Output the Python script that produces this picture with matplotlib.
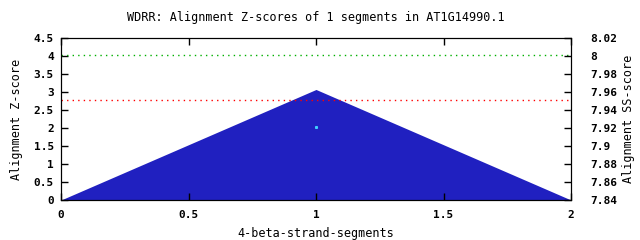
import numpy as np
import matplotlib
matplotlib.use('Agg')
import matplotlib.pyplot as plt

#---------DATA------------
segments = [0, 1, 2]
zscores = [0, 3.07, 0]
green_level = 4.02
red_level = 2.77
point_x = [1]
point_y = [2.02]

plt.rcParams['font.family'] = 'DejaVu Sans Mono'
plt.rcParams['font.weight'] = 'bold'
plt.rcParams['font.size'] = 8

fig = plt.figure(figsize=(6.4, 2.4), dpi=100)
# axes box in pixels: left 61, right 571, top 38, bottom 200
ax = fig.add_axes([61/640, 40/240, 510/640, 162/240])

ax.fill_between(segments, zscores, 0, color='#2020c0', linewidth=0)
ax.axhline(green_level, color='#00b000', linestyle=(0, (1, 3)), linewidth=1)
ax.axhline(red_level, color='#ff0000', linestyle=(0, (1, 3)), linewidth=1)
ax.plot(point_x, point_y, 's', color='#40d0ff', markersize=1.2)

ax.set_xlim(0, 2)
ax.set_ylim(0, 4.5)
ax.set_xticks([0, 0.5, 1, 1.5, 2])
ax.set_xticklabels(['0', '0.5', '1', '1.5', '2'])
ax.set_yticks(np.arange(0, 4.51, 0.5))
ax.set_yticklabels(['0', '0.5', '1', '1.5', '2', '2.5', '3', '3.5', '4', '4.5'])
ax.tick_params(direction='in', length=5, top=True, width=1, pad=7)
ax.tick_params(axis='y', pad=5)
ax.set_xlabel('4-beta-strand-segments', fontsize=8.5, labelpad=5)
ax.set_ylabel('Alignment Z-score', fontsize=8.5, labelpad=8)
ax.set_title('WDRR: Alignment Z-scores of 1 segments in AT1G14990.1', fontsize=8.5, pad=12)

ax2 = ax.twinx()
ax2.set_ylim(7.84, 8.02)
r_ticks = [7.84, 7.86, 7.88, 7.9, 7.92, 7.94, 7.96, 7.98, 8.0, 8.02]
ax2.set_yticks(r_ticks)
ax2.set_yticklabels(['7.84', '7.86', '7.88', '7.9', '7.92', '7.94', '7.96', '7.98', '8', '8.02'])
ax2.tick_params(direction='in', length=5, width=1, pad=14)
ax2.set_ylabel('Alignment SS-score', fontsize=8.5, labelpad=3)

plt.savefig('out.png', dpi=100)
